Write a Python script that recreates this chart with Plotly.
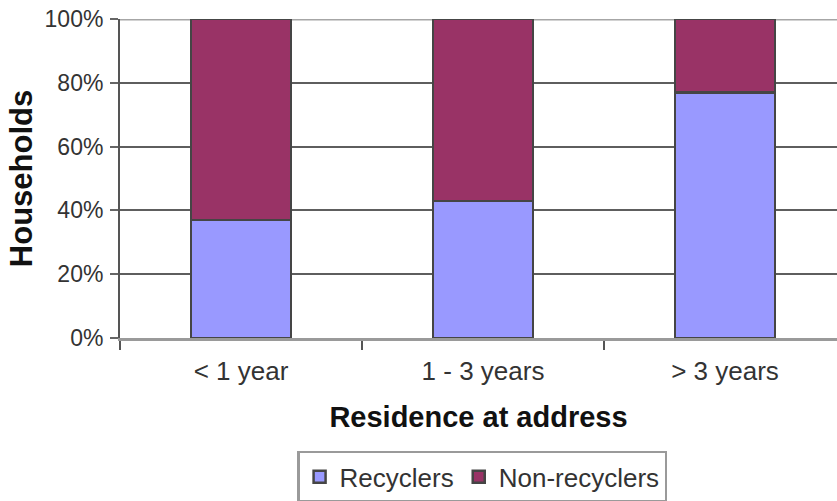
import plotly.graph_objects as go

# Share of households by length of residence at the current address
categories = ["< 1 year", "1 - 3 years", "> 3 years"]
recyclers = [37, 43, 77]
non_recyclers = [63, 57, 23]
y_ticks = [0, 20, 40, 60, 80, 100]
y_tick_labels = ["0%", "20%", "40%", "60%", "80%", "100%"]

FONT = "Liberation Sans, Arial, sans-serif"
BLUE = "#9999FF"
MAROON = "#993366"
EDGE = "#454545"

fig = go.Figure()
fig.add_trace(go.Bar(
    x=categories, y=recyclers, name="Recyclers",
    marker=dict(color=BLUE, line=dict(color=EDGE, width=2.5)),
))
fig.add_trace(go.Bar(
    x=categories, y=non_recyclers, name="Non-recyclers",
    marker=dict(color=MAROON, line=dict(color=EDGE, width=2.5)),
))

# lighter rule along the 100% level
fig.add_shape(type="line", xref="paper", yref="y", x0=0, x1=1, y0=100, y1=100,
              line=dict(color="#a6a6a6", width=3), layer="below")

fig.update_layout(
    width=837, height=501,
    margin=dict(l=120, r=0, t=19, b=163, autoexpand=False),
    barmode="stack", bargap=0.587,
    paper_bgcolor="white", plot_bgcolor="white",
    font=dict(family=FONT, size=25, color="#333333"),
    showlegend=True,
    legend=dict(
        orientation="h", x=0.505, xanchor="center", y=-0.354, yanchor="top",
        traceorder="normal",
        bordercolor="#9a9a9a", borderwidth=2.5, bgcolor="white",
        font=dict(family=FONT, size=26, color="#333333"),
        itemwidth=30, tracegroupgap=0,
    ),
    xaxis=dict(
        type="category", range=[-0.5, 2.463],
        tickson="boundaries", ticks="outside", ticklen=9, tickwidth=2,
        tickcolor="#555555", showgrid=False,
        showline=True, linecolor="#9a9a9a", linewidth=3,
        ticklabelstandoff=8,
        tickfont=dict(family=FONT, size=26, color="#333333"),
        title=dict(text="<b>Residence at address</b>", standoff=22,
                   font=dict(family=FONT, size=29, color="#111111")),
    ),
    yaxis=dict(
        range=[0, 100], tickmode="array", tickvals=y_ticks, ticktext=y_tick_labels,
        ticks="outside", ticklen=8, tickwidth=2, tickcolor="#666666",
        showgrid=True, gridcolor="#5e5e5e", gridwidth=2,
        zeroline=False,
        showline=True, linecolor="#555555", linewidth=2,
        ticklabelstandoff=2,
        tickfont=dict(family=FONT, size=23, color="#333333"),
        title=dict(text="<b>Households</b>", standoff=3,
                   font=dict(family=FONT, size=31, color="#111111")),
    ),
)

fig.write_html("out.html")
